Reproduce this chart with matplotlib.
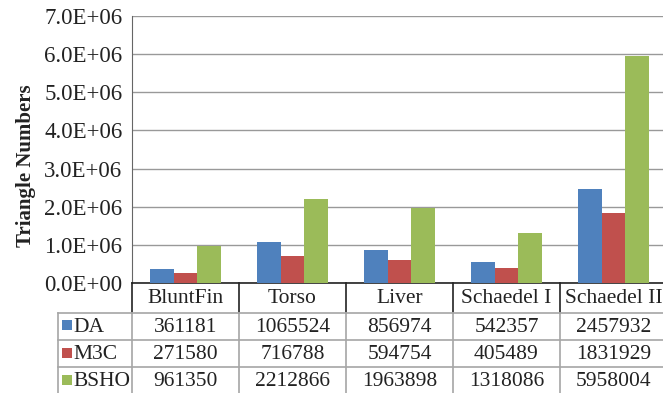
import matplotlib.pyplot as plt
import numpy as np

plt.rcParams['font.family'] = ['Liberation Serif', 'DejaVu Serif']

categories = ['BluntFin', 'Torso', 'Liver', 'Schaedel I', 'Schaedel II']
series = ['DA', 'M3C', 'BSHO']
da = [361181, 1065524, 856974, 542357, 2457932]
m3c = [271580, 716788, 594754, 405489, 1831929]
bsho = [961350, 2212866, 1963898, 1318086, 5958004]
colors = ['#4F81BD', '#C0504D', '#9BBB59']

W, H = 663, 393
fig = plt.figure(figsize=(W / 100, H / 100), dpi=100)

# plot area in pixel terms (right edge runs slightly past the canvas)
x0, x1 = 132, 667
ytop, ybot = 16, 283
ax = fig.add_axes([x0 / W, (H - ybot) / H, (x1 - x0) / W, (ybot - ytop) / H])

x = np.arange(len(categories))
bw = 0.22
for i, (vals, c) in enumerate(zip([da, m3c, bsho], colors)):
    ax.bar(x + (i - 1) * bw, vals, width=bw, color=c, zorder=3)

ax.set_xlim(-0.5, len(categories) - 0.5)
ax.set_ylim(0, 7e6)
ax.set_yticks(np.arange(0, 7.01e6, 1e6))
ax.yaxis.set_major_formatter(plt.FuncFormatter(lambda v, p: '{:.1E}'.format(v)))
ax.tick_params(axis='y', length=0, pad=7, labelsize=16.5, colors='#222222')
ax.set_xticks([])
ax.grid(axis='y', color='#999999', lw=1, zorder=0)
for s in ['top', 'right']:
    ax.spines[s].set_visible(False)
ax.spines['left'].set_color('#666666')
ax.spines['bottom'].set_color('#222222')
ax.spines['bottom'].set_linewidth(1.2)
ax.set_ylabel('Triangle Numbers', fontsize=15, fontweight='bold', color='#222222')
ax.yaxis.set_label_coords(-(132 - 36) / (x1 - x0), (283 - 166) / (ybot - ytop),
                          transform=ax.transAxes)

# data table below the bars, sharing the category positions
tb = fig.add_axes([x0 / W, 0, (x1 - x0) / W, (H - ybot) / H], sharex=ax)
tb.set_ylim(H - ybot, 0)
tb.axis('off')
rows = [0, 29.5, 57, 84, 111]
edges = np.arange(len(categories) + 1) - 0.5
px = (x1 - x0) / len(categories)          # pixels per category
leg_left = -0.5 - (132 - 58) / px

for e in edges:
    tb.plot([e, e], [rows[0], rows[1]], color='#222222', lw=1.2, clip_on=False)
    tb.plot([e, e], [rows[1], rows[-1]], color='#a6a6a6', lw=1.2, clip_on=False)
tb.plot([leg_left, leg_left], [rows[1], rows[-1]], color='#a6a6a6', lw=1.2, clip_on=False)
for r in rows[1:4]:
    tb.plot([leg_left, edges[-1]], [r, r], color='#a6a6a6', lw=1.2, clip_on=False)

for j, name in enumerate(categories):
    tb.text(j, (rows[0] + rows[1]) / 2 + 1, name, ha='center', va='center',
            fontsize=15.5, color='#222222')

for i, (name, vals, c) in enumerate(zip(series, [da, m3c, bsho], colors)):
    ym = (rows[i + 1] + rows[i + 2]) / 2
    tb.plot([leg_left + (67 - 58) / px], [ym - 1], marker='s', ms=7.2, mew=0,
            color=c, clip_on=False)
    tb.text(leg_left + (73 - 58) / px, ym + 1, name, ha='left', va='center',
            fontsize=15.5, color='#222222', clip_on=False)
    for j, v in enumerate(vals):
        tb.text(j, ym + 1, str(v), ha='center', va='center', fontsize=15.5,
                color='#222222')

fig.savefig('out.png', dpi=100)
